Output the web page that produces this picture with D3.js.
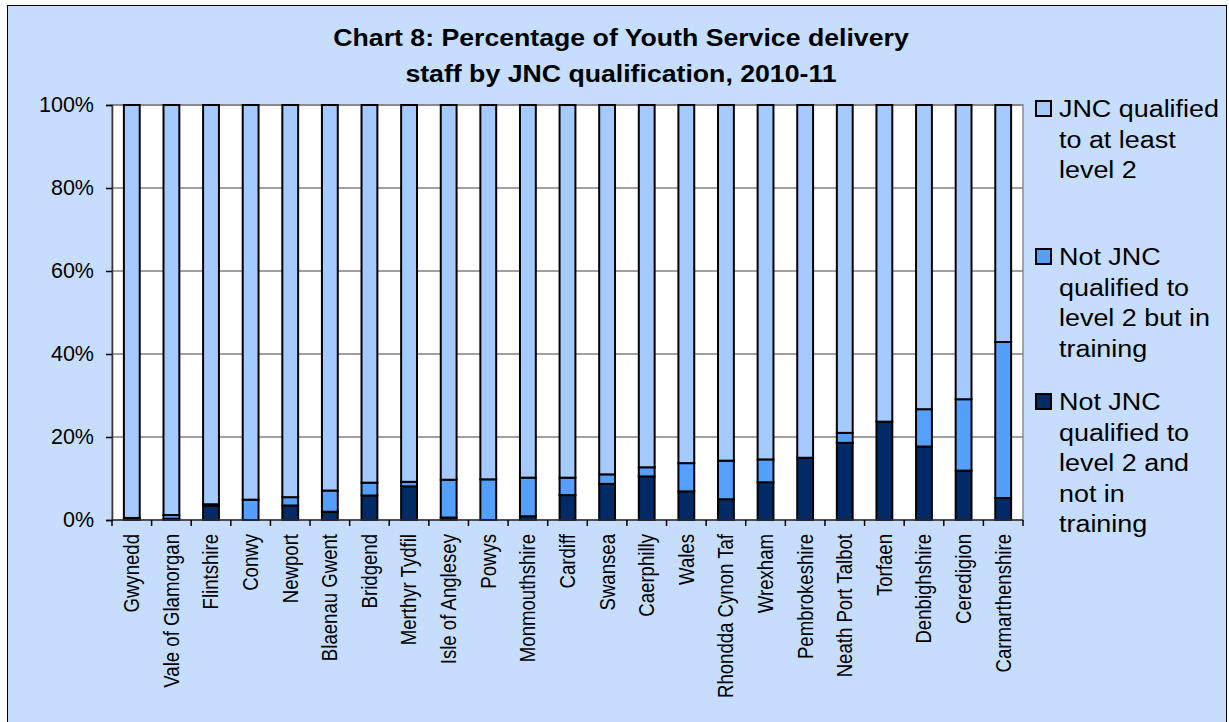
<!DOCTYPE html>
<html>
<head>
<meta charset="utf-8">
<script src="https://cdn.jsdelivr.net/npm/d3@7"></script>
<style>
  html, body { margin: 0; padding: 0; background: #fff; }
  svg { display: block; font-family: "Liberation Sans", Arial, sans-serif; }
</style>
</head>
<body>
<svg id="chart" width="1229" height="722"></svg>
<script>
// Chart data (percentages)
const categories = [
  'Gwynedd', 'Vale of Glamorgan', 'Flintshire', 'Conwy', 'Newport', 'Blaenau Gwent',
  'Bridgend', 'Merthyr Tydfil', 'Isle of Anglesey', 'Powys', 'Monmouthshire', 'Cardiff',
  'Swansea', 'Caerphilly', 'Wales', 'Rhondda Cynon Taf', 'Wrexham', 'Pembrokeshire',
  'Neath Port Talbot', 'Torfaen', 'Denbighshire', 'Ceredigion', 'Carmarthenshire'
];
const notQualifiedNotTraining = [0.5, 0.3, 3.4, 0, 3.5, 2.0, 5.9, 8.1, 0.6, 0, 0.9, 6.0,
  8.7, 10.5, 6.9, 5.0, 9.1, 15.0, 18.6, 23.7, 17.7, 11.9, 5.3];
const notQualifiedInTraining = [0, 0.9, 0.4, 4.9, 2.0, 5.1, 3.1, 1.1, 9.1, 9.8, 9.3, 4.2,
  2.3, 2.2, 6.8, 9.3, 5.5, 0, 2.4, 0, 9.0, 17.2, 37.6];
const qualified = categories.map((c, i) => 100 - notQualifiedNotTraining[i] - notQualifiedInTraining[i]);

const seriesKeys = ['dark', 'mid', 'light'];
const seriesColors = { dark: '#002b66', mid: '#55a0ff', light: '#a5caff' };
const legendItems = [
  { key: 'light', lines: ['JNC qualified', 'to at least', 'level 2'] },
  { key: 'mid', lines: ['Not JNC', 'qualified to', 'level 2 but in', 'training'] },
  { key: 'dark', lines: ['Not JNC', 'qualified to', 'level 2 and', 'not in', 'training'] }
];
const yTicks = [0, 20, 40, 60, 80, 100];

function renderChart() {
  const svg = d3.select('#chart');
  const W = 1229, H = 722;
  const plot = { left: 112, right: 1023, top: 105, bottom: 520 };

  // background + outer frame
  svg.append('rect').attr('x', 0).attr('y', 0).attr('width', W).attr('height', H).attr('fill', '#fff');
  svg.append('rect')
    .attr('x', 7.5).attr('y', 5.5).attr('width', 1219).attr('height', 730)
    .attr('fill', '#c6ddfd').attr('stroke', '#000').attr('stroke-width', 1);

  // title
  const title = svg.append('g').attr('font-weight', 'bold').attr('font-size', 23).attr('fill', '#000');
  ['Chart 8: Percentage of Youth Service delivery', 'staff by JNC qualification, 2010-11'].forEach((t, i) => {
    title.append('text')
      .attr('transform', `translate(621,${46 + i * 36}) scale(1.16,1)`)
      .attr('text-anchor', 'middle')
      .text(t);
  });

  const x = d3.scaleBand().domain(categories).range([plot.left, plot.right])
    .paddingInner(0.6).paddingOuter(0.3);
  const y = d3.scaleLinear().domain([0, 100]).range([plot.bottom, plot.top]);

  // plot area
  svg.append('rect')
    .attr('x', plot.left).attr('y', plot.top)
    .attr('width', plot.right - plot.left).attr('height', plot.bottom - plot.top)
    .attr('fill', '#fff').attr('stroke', '#8c8c8c').attr('stroke-width', 1.5);

  // gridlines
  svg.append('g').selectAll('line')
    .data(yTicks.filter(d => d > 0))
    .enter().append('line')
    .attr('x1', plot.left).attr('x2', plot.right)
    .attr('y1', d => y(d)).attr('y2', d => y(d))
    .attr('stroke', '#808080').attr('stroke-width', 1.5);

  // stacked bars
  const rows = categories.map((c, i) => ({
    cat: c, dark: notQualifiedNotTraining[i], mid: notQualifiedInTraining[i], light: qualified[i]
  }));
  const stacked = d3.stack().keys(seriesKeys)(rows);
  svg.append('g').selectAll('g')
    .data(stacked)
    .enter().append('g')
    .attr('fill', d => seriesColors[d.key])
    .selectAll('rect')
    .data(d => d.filter(s => s[1] - s[0] > 0))
    .enter().append('rect')
    .attr('x', d => x(d.data.cat))
    .attr('width', x.bandwidth())
    .attr('y', d => y(d[1]))
    .attr('height', d => y(d[0]) - y(d[1]))
    .attr('stroke', '#000').attr('stroke-width', 2);

  // y axis
  const yAxis = svg.append('g')
    .attr('transform', `translate(${plot.left},0)`)
    .call(d3.axisLeft(y).tickValues(yTicks).tickFormat(d => d + '%').tickSize(6).tickPadding(12));
  yAxis.select('.domain').attr('stroke', '#333').attr('stroke-width', 1.5);
  yAxis.selectAll('.tick line').attr('stroke', '#000').attr('stroke-width', 1.5);
  yAxis.selectAll('text').attr('font-size', 21.5).attr('fill', '#000')
    .attr('font-family', '"Liberation Sans", Arial, sans-serif');

  // x axis line + ticks between categories
  svg.append('line')
    .attr('x1', plot.left).attr('x2', plot.right)
    .attr('y1', plot.bottom).attr('y2', plot.bottom)
    .attr('stroke', '#333').attr('stroke-width', 1.5);
  const bounds = categories.map(c => x(c) + x.bandwidth() / 2 - x.step() / 2).concat([plot.right]);
  svg.append('g').selectAll('line')
    .data(bounds)
    .enter().append('line')
    .attr('x1', d => d).attr('x2', d => d)
    .attr('y1', plot.bottom).attr('y2', plot.bottom + 6)
    .attr('stroke', '#000').attr('stroke-width', 1.5);

  // category labels, rotated
  svg.append('g').selectAll('text')
    .data(categories)
    .enter().append('text')
    .attr('transform', d => `translate(${x(d) + x.bandwidth() / 2},534) scale(1.14,1) rotate(-90)`)
    .attr('text-anchor', 'end')
    .attr('dy', '0.35em')
    .attr('font-size', 18.6)
    .attr('fill', '#000')
    .text(d => d);

  // legend (clipped at bottom like the original)
  svg.append('clipPath').attr('id', 'legclip')
    .append('rect').attr('x', 1025).attr('y', 80).attr('width', 200).attr('height', 457);
  const legend = svg.append('g').attr('clip-path', 'url(#legclip)');
  const groupTop = [117, 265, 410];
  legendItems.forEach((item, gi) => {
    legend.append('rect')
      .attr('x', 1036).attr('y', groupTop[gi] - 16)
      .attr('width', 15).attr('height', 15)
      .attr('fill', seriesColors[item.key])
      .attr('stroke', '#000').attr('stroke-width', 2);
    item.lines.forEach((line, li) => {
      legend.append('text')
        .attr('transform', `translate(1059,${groupTop[gi] + li * 30.6}) scale(1.17,1)`)
        .attr('font-size', 23)
        .attr('fill', '#000')
        .text(line);
    });
  });
}

document.addEventListener('DOMContentLoaded', renderChart);
</script>
</body>
</html>
